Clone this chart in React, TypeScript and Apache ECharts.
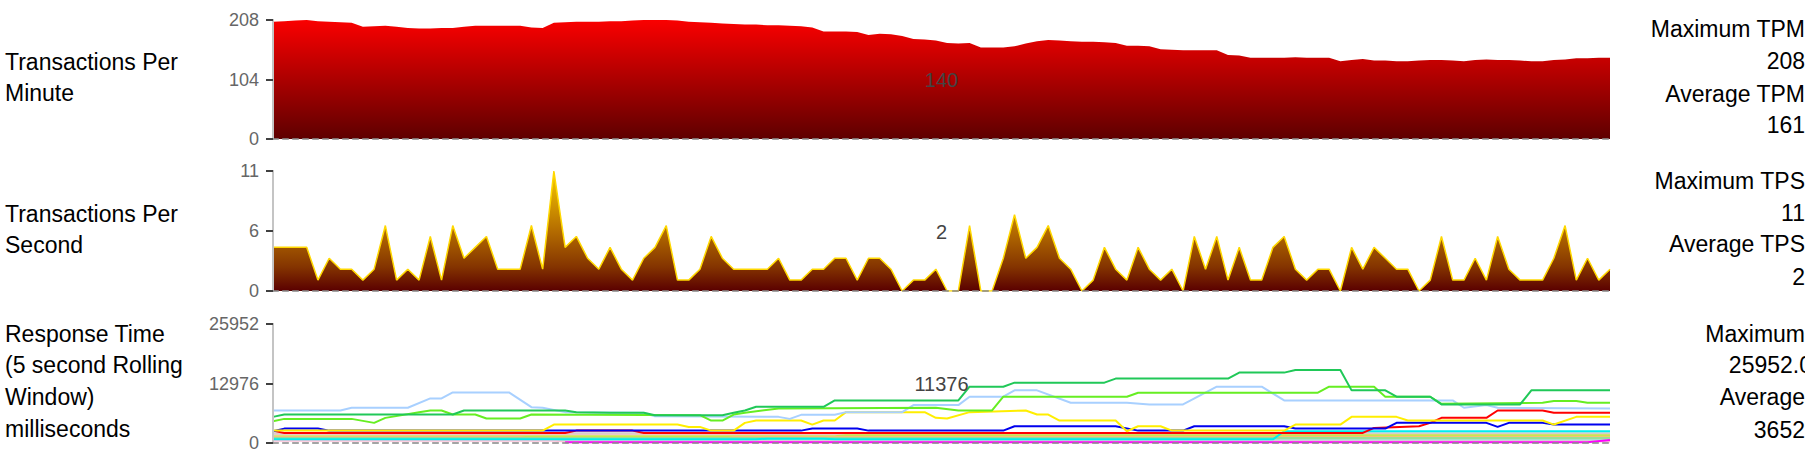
import React, { useEffect, useRef } from "react";
import * as echarts from "echarts";

const FONT = '"Liberation Sans", Arial, sans-serif';

const tpm = [
  205, 206, 207, 208, 206, 205, 204, 203, 196, 197, 198, 196, 194, 193, 193, 194, 194, 196, 198, 198,
  198, 198, 198, 195, 194, 203, 204, 205, 205, 205, 206, 206, 207, 208, 208, 208, 207, 205, 204, 203,
  202, 201, 200, 200, 199, 199, 198, 197, 195, 188, 188, 188, 187, 182, 184, 183, 180, 175, 174, 172,
  168, 167, 168, 160, 160, 160, 162, 167, 171, 173, 172, 171, 170, 170, 169, 168, 163, 163, 162, 157,
  156, 155, 155, 155, 155, 147, 146, 142, 142, 142, 142, 143, 142, 142, 142, 136, 138, 140, 137, 137,
  136, 136, 137, 138, 138, 137, 136, 138, 139, 138, 138, 137, 136, 136, 138, 139, 141, 141, 142, 142,
];

const tps = [
  4, 4, 4, 4, 1, 3, 2, 2, 1, 2, 6, 1, 2, 1, 5, 1, 6, 3, 4, 5,
  2, 2, 2, 6, 2, 11, 4, 5, 3, 2, 4, 2, 1, 3, 4, 6, 1, 1, 2, 5,
  3, 2, 2, 2, 2, 3, 1, 1, 2, 2, 3, 3, 1, 3, 3, 2, 0, 1, 1, 2,
  0, 0, 6, 0, 0, 3, 7, 3, 4, 6, 3, 2, 0, 1, 4, 2, 1, 4, 2, 1,
  2, 0, 5, 2, 5, 1, 4, 1, 1, 4, 5, 2, 1, 2, 2, 0, 4, 2, 4, 3,
  2, 2, 0, 1, 5, 1, 1, 3, 1, 5, 2, 1, 1, 1, 3, 6, 1, 3, 1, 2,
];

const tpmMax = 208;
const tpsMax = 11;
const rtMax = 25952;

const rtSilver = [[0, 2120], [119, 2120]];
const rtPaleRose = [[0, 1900], [60, 1830], [119, 1830]];
const rtYellowGreen = [[0, 1460], [50, 1460], [51, 1680], [119, 1680]];
const rtOrange = [[0, 1300], [22, 1300], [23, 880], [40, 880], [41, 1300], [119, 1300]];
const rtLightGreen = [[0, 1100], [119, 1100]];
const rtMint = [[0, 660], [119, 660]];
const rtPink = [[0, 510], [25, 510], [26, 300], [119, 300]];
const rtMagenta = [[26, 150], [117, 150], [119, 660]];
const rtCyan = [[0, 800], [43, 800], [44, 950], [49, 950], [50, 800], [89, 800], [90, 2560], [119, 2560]];
const rtRed = [[0, 2700], [1, 2190], [26, 2190], [27, 2700], [32, 2700], [33, 2190], [97, 2190], [98, 3290], [102, 3660], [103, 4390], [104, 5480], [108, 5480], [109, 7090], [113, 7090], [114, 6580], [119, 6580]];
const rtBlue = [[0, 2560], [1, 3140], [4, 3140], [5, 2700], [47, 2700], [48, 3140], [52, 3140], [53, 2700], [65, 2700], [66, 3660], [75, 3660], [77, 2700], [81, 2700], [82, 3660], [90, 3660], [91, 3140], [99, 3140], [100, 4390], [108, 4390], [109, 3510], [110, 4390], [113, 4390], [114, 4020], [119, 4020]];
const rtYellow = [[0, 2700], [24, 2700], [25, 4020], [36, 4020], [37, 3510], [38, 3510], [39, 2700], [41, 2700], [42, 4390], [43, 4900], [47, 4900], [48, 4020], [49, 4900], [50, 4900], [51, 6730], [58, 6730], [59, 5480], [60, 5340], [62, 6730], [67, 7090], [68, 6210], [69, 6210], [70, 4900], [75, 4900], [76, 2560], [77, 3660], [79, 3660], [80, 2700], [90, 2700], [91, 4020], [95, 4020], [96, 5700], [100, 5700], [101, 4900], [113, 4900], [114, 4020], [116, 5700], [119, 5700]];
const rtLightBlue = [[0, 7090], [6, 7090], [7, 7680], [12, 7680], [14, 9720], [15, 9720], [16, 11040], [21, 11040], [23, 7820], [24, 7680], [26, 6730], [33, 6580], [34, 5850], [45, 5700], [46, 5260], [47, 6140], [50, 6140], [51, 6730], [56, 6730], [57, 8260], [61, 8260], [62, 10090], [65, 10090], [66, 11480], [68, 11480], [71, 8770], [76, 8770], [78, 8410], [81, 8410], [84, 12280], [88, 12280], [90, 9280], [105, 9280], [106, 7680], [108, 8260], [109, 7680], [119, 7530]];
const rtLime = [[0, 4750], [1, 5260], [7, 5260], [9, 4390], [10, 5480], [13, 6730], [14, 7090], [15, 7090], [16, 6210], [18, 6210], [19, 5340], [22, 5340], [23, 6210], [38, 6070], [39, 4900], [40, 4900], [41, 6210], [42, 6580], [45, 7530], [59, 7680], [61, 7090], [64, 7090], [65, 10090], [76, 10090], [77, 10970], [93, 10970], [94, 12280], [98, 12280], [99, 10090], [103, 10090], [104, 8550], [113, 8770], [114, 9140], [116, 9140], [117, 8770], [119, 8770]];
const rtGreen = [[0, 5700], [1, 6210], [16, 6210], [17, 7090], [26, 7090], [27, 6730], [30, 6580], [33, 6580], [34, 6070], [40, 6070], [41, 6580], [42, 7090], [43, 7900], [49, 7900], [50, 9280], [61, 9280], [62, 12280], [65, 12280], [66, 13160], [74, 13160], [75, 14040], [85, 14040], [86, 15350], [90, 15350], [91, 15940], [95, 15940], [96, 11480], [99, 11480], [100, 10090], [103, 10090], [104, 8410], [111, 8410], [112, 11480], [119, 11480]];

const rtSeries = [
  { name: "s1", color: "#cccccc", data: rtSilver },
  { name: "s2", color: "#ecc8c8", data: rtPaleRose },
  { name: "s3", color: "#c8e650", data: rtYellowGreen },
  { name: "s4", color: "#f8c078", data: rtOrange },
  { name: "s5", color: "#98e098", data: rtLightGreen },
  { name: "s6", color: "#a8e0d0", data: rtMint },
  { name: "s7", color: "#ffc0d8", data: rtPink },
  { name: "s8", color: "#ff00ff", data: rtMagenta },
  { name: "s9", color: "#00eeee", data: rtCyan },
  { name: "s10", color: "#ff0000", data: rtRed },
  { name: "s11", color: "#0000ee", data: rtBlue },
  { name: "s12", color: "#ffee00", data: rtYellow },
  { name: "s13", color: "#a8d0ff", data: rtLightBlue },
  { name: "s14", color: "#66ee22", data: rtLime },
  { name: "s15", color: "#20c858", data: rtGreen },
];

const panelTitles = [
  ["Transactions Per", "Minute"],
  ["Transactions Per", "Second"],
  ["Response Time", "(5 second Rolling", "Window)", "milliseconds"],
];
const statLines = [
  ["Maximum TPM", "208", "Average TPM", "161"],
  ["Maximum TPS", "11", "Average TPS", "2"],
  ["Maximum", "25952.0", "Average", "3652"],
];
const centerLabels = ["140", "2", "11376"];
const axisMaxes = [tpmMax, tpsMax, rtMax];

export default function App() {
  const ref = useRef<HTMLDivElement>(null);
  useEffect(() => {
    document.body.style.margin = "0";
    if (!ref.current) return;
    const chart = echarts.init(ref.current, undefined, { renderer: "svg" });

    const grids = [
      { left: 273, right: 209, top: 20, height: 119 },
      { left: 273, right: 209, top: 171, height: 120 },
      { left: 273, right: 209, top: 324, height: 119 },
    ];
    const dashLine = { show: true, lineStyle: { color: "rgba(140,140,140,0.55)", width: 2, type: [5, 5] } };
    const xAxes: any[] = [];
    const yAxes: any[] = [];
    grids.forEach((_, i) => {
      ["bottom", "top"].forEach((pos) =>
        xAxes.push({
          type: "value", gridIndex: i, min: 0, max: tpm.length - 1, position: pos,
          axisLine: dashLine, axisTick: { show: false }, axisLabel: { show: false },
          splitLine: { show: false }, z: 5,
        })
      );
      const max = axisMaxes[i];
      yAxes.push({
        type: "value", gridIndex: i, min: 0, max, interval: max / 2, position: "left",
        axisLine: { show: true, lineStyle: { color: "rgba(150,150,150,0.6)", width: 2 } },
        axisTick: { show: true, length: 7, lineStyle: { color: "#404040", width: 2 } },
        axisLabel: {
          color: "#666", fontSize: 18, fontFamily: FONT, margin: 14,
          formatter: (v: number) => String(Math.round(v)),
        },
        splitLine: { show: false }, z: 5,
      });
      yAxes.push({
        type: "value", gridIndex: i, min: 0, max: 1, position: "right",
        axisLine: { show: true, lineStyle: { color: "#c4c4c4", width: 2 } },
        axisTick: { show: false }, axisLabel: { show: false }, splitLine: { show: false }, z: 5,
      });
    });

    const series: any[] = [
      {
        type: "line", xAxisIndex: 0, yAxisIndex: 0, showSymbol: false,
        data: tpm.map((v, i) => [i, v]),
        lineStyle: { width: 0, opacity: 0 },
        areaStyle: {
          opacity: 1,
          color: {
            type: "linear", x: 0, y: 20, x2: 0, y2: 139, global: true,
            colorStops: [
              { offset: 0, color: "#fa0000" },
              { offset: 1, color: "#5e0000" },
            ],
          },
        },
      },
      {
        type: "line", xAxisIndex: 2, yAxisIndex: 2, showSymbol: false,
        data: tps.map((v, i) => [i, v]),
        lineStyle: { width: 1.5, color: "#ffd800" },
        areaStyle: {
          opacity: 1,
          color: {
            type: "linear", x: 0, y: 171, x2: 0, y2: 291, global: true,
            colorStops: [
              { offset: 0, color: "#f8cc00" },
              { offset: 0.5, color: "#b46c00" },
              { offset: 0.8, color: "#843400" },
              { offset: 1, color: "#5a0000" },
            ],
          },
        },
      },
      ...rtSeries.map((s) => ({
        type: "line", name: s.name, xAxisIndex: 4, yAxisIndex: 4, showSymbol: false,
        data: s.data, lineStyle: { width: 2, color: s.color }, itemStyle: { color: s.color },
      })),
    ];

    const graphics: any[] = [];
    const txt = (text: string, x: number, y: number, size: number, fill: string, align: string) => ({
      type: "text", x, y, z: 50,
      style: {
        text, fill, fontSize: size, fontFamily: FONT,
        textAlign: align, align, textVerticalAlign: "middle", verticalAlign: "middle",
      },
    });
    const titleBase = [[62, 93], [214, 245], [334, 365, 397, 429]];
    panelTitles.forEach((lines, i) =>
      lines.forEach((l, j) => graphics.push(txt(l, 5, titleBase[i][j], 23, "#000", "left")))
    );
    const statBase = [[29, 61, 94, 125], [181, 213, 244, 277], [334, 365, 397, 430]];
    statLines.forEach((lines, i) =>
      lines.forEach((l, j) => {
        const clipped = i === 2 && j === 1;
        graphics.push(txt(l, clipped ? 1812 : 1805, statBase[i][j], 23, "#000", "right"));
      })
    );
    graphics.push({ type: "rect", z: 60, shape: { x: 1805, y: 350, width: 14, height: 30 }, style: { fill: "#fff" } });
    const centers = [80, 232, 384];
    centerLabels.forEach((l, i) => graphics.push(txt(l, 941.5, centers[i], 20, "#444", "center")));

    chart.setOption({
      animation: false,
      grid: grids,
      xAxis: xAxes,
      yAxis: yAxes,
      series,
      graphic: { elements: graphics },
    });
    return () => chart.dispose();
  }, []);
  return <div ref={ref} style={{ width: 1819, height: 461 }} />;
}
